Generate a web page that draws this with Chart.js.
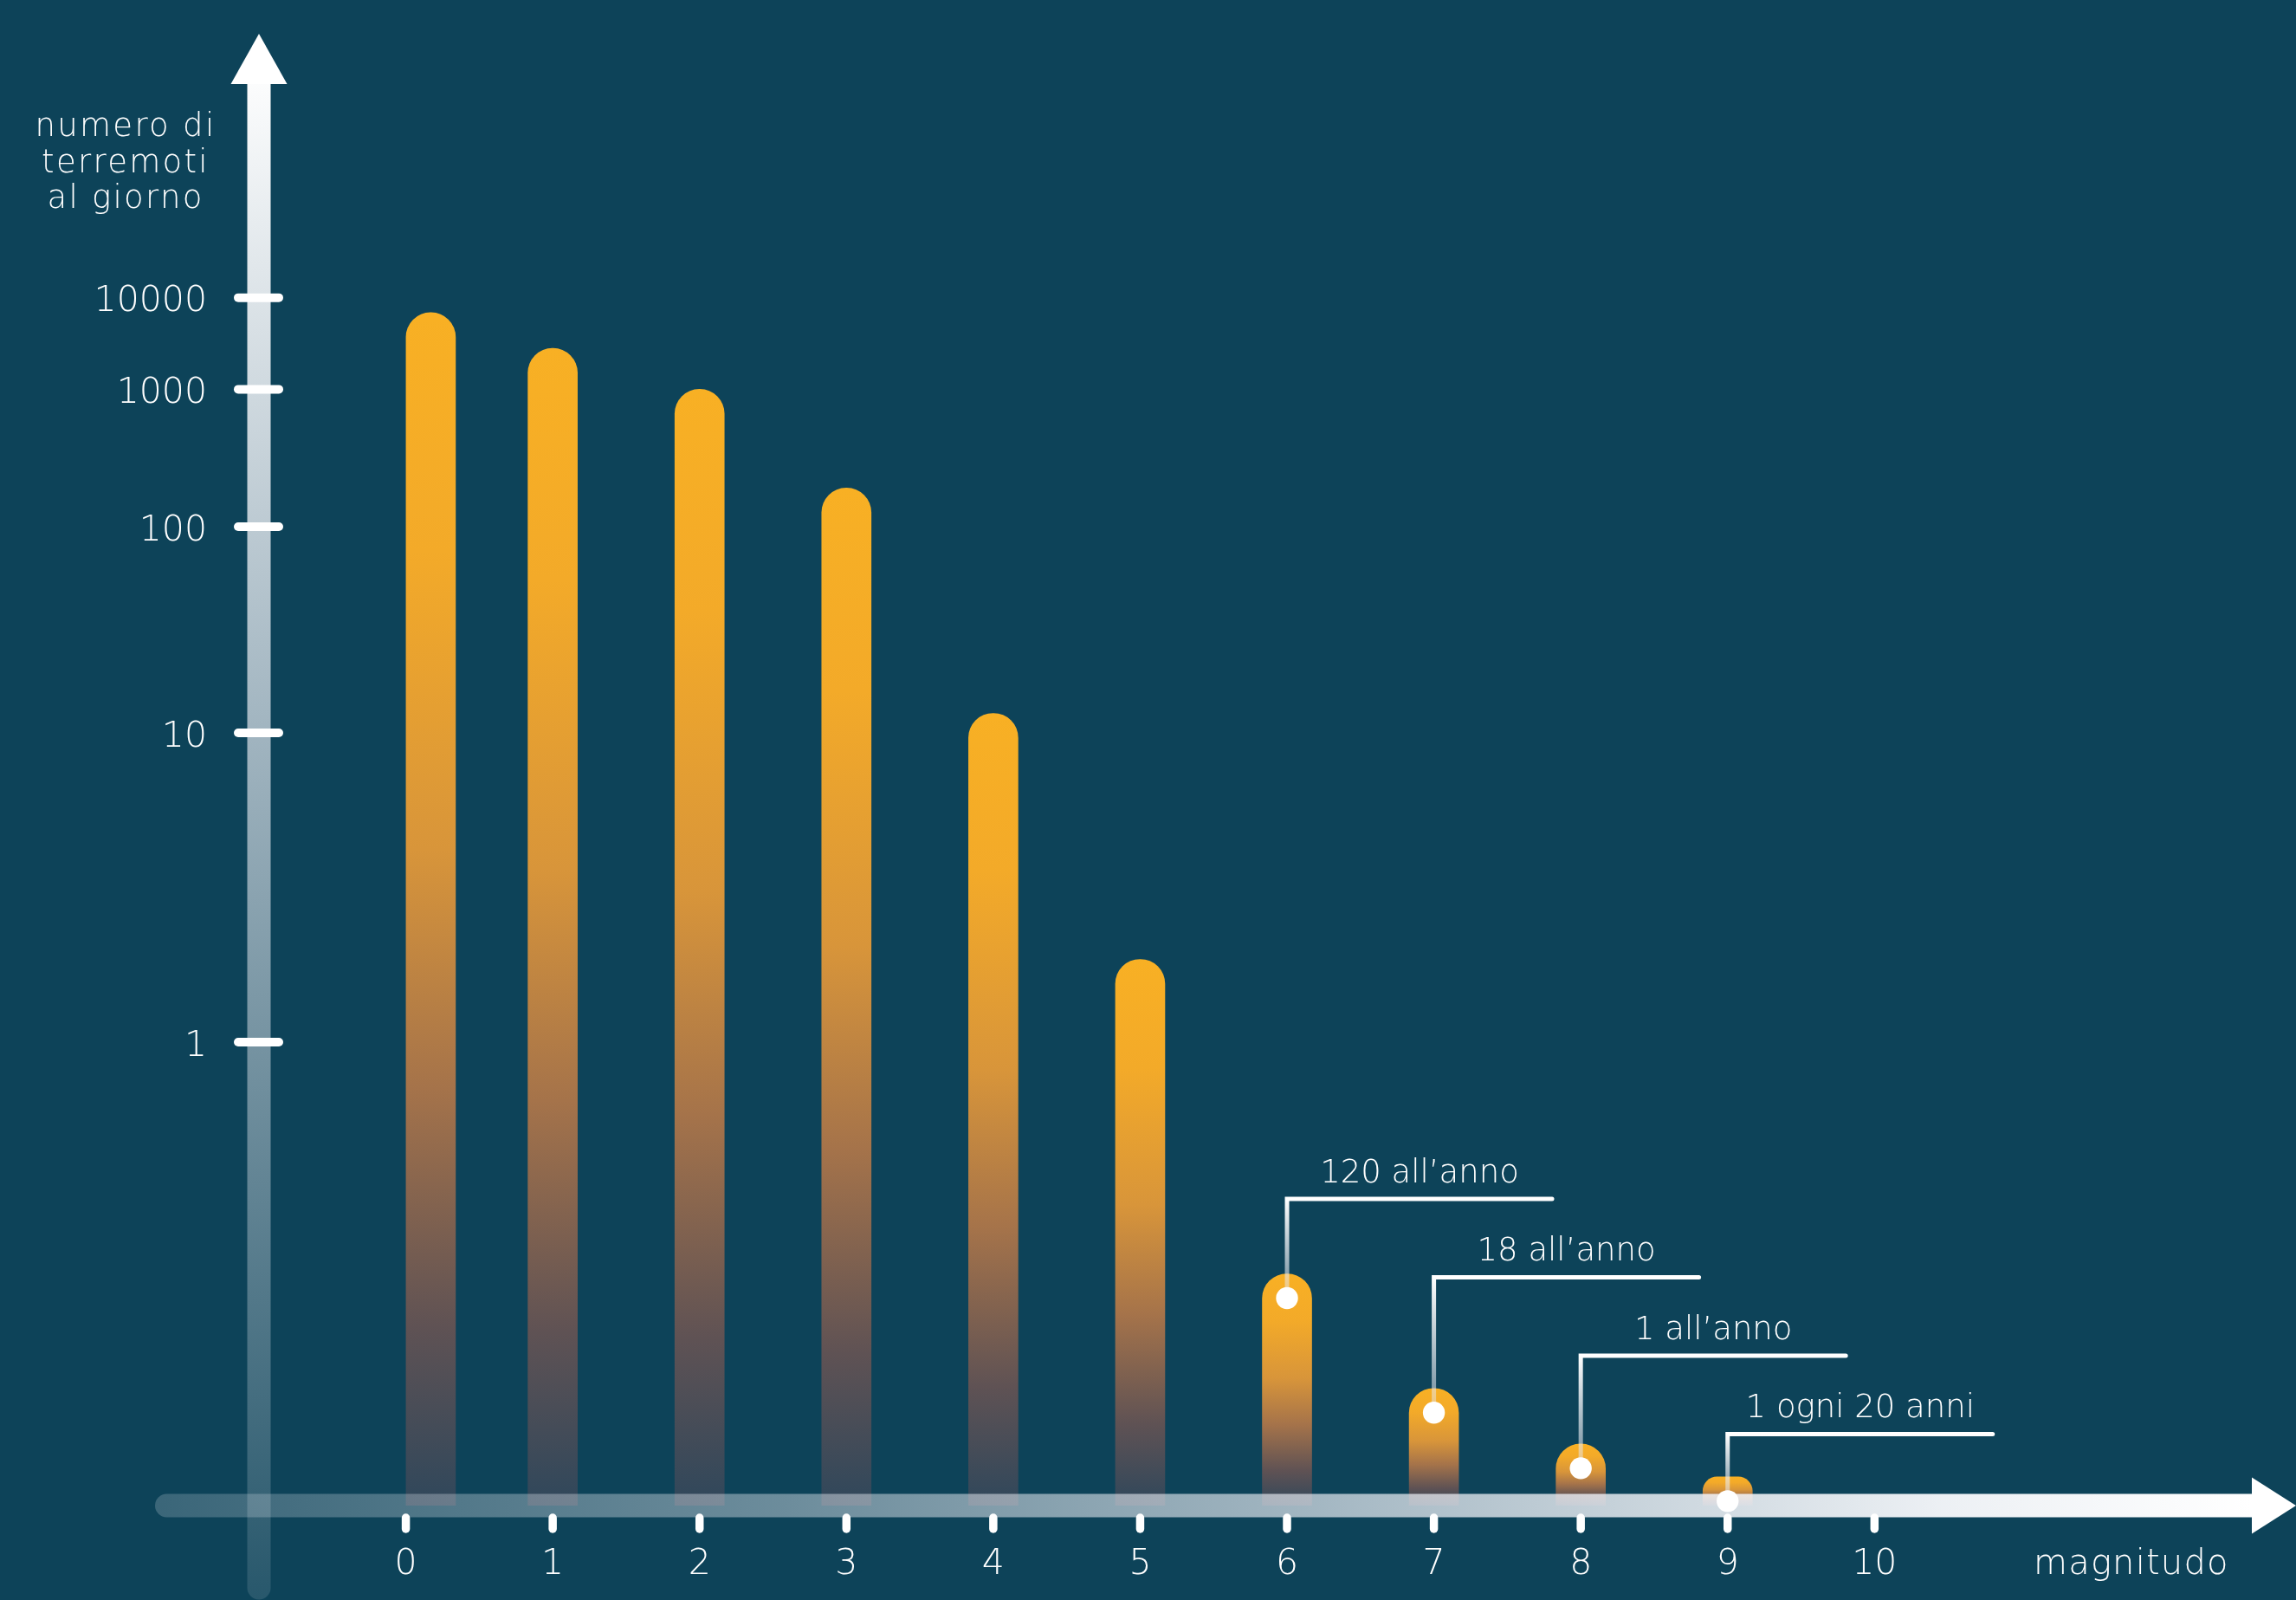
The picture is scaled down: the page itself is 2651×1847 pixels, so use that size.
<!DOCTYPE html>
<html lang="it">
<head>
<meta charset="utf-8">
<title>Terremoti al giorno per magnitudo</title>
<script src="https://cdn.jsdelivr.net/npm/chart.js@4.4.1/dist/chart.umd.min.js"></script>
<style>
  html, body { margin: 0; padding: 0; background: #0d4359; }
  #wrap { width: 2651px; height: 1847px; position: relative; }
</style>
</head>
<body>
<div id="wrap"><canvas id="quakeChart"></canvas></div>
<script>
// magnitude of each bar (the first bar sits a little right of its tick in the original)
const magnitudes = [0.17, 1, 2, 3, 4, 5, 6, 7, 8, 9];
// earthquakes per day
const perDay = [6400, 2500, 1000, 175, 12, 1.7, 0.329, 0.0493, 0.00274, 0.000137];
const callouts = ['', '', '', '', '', '', '120 all’anno', '18 all’anno', '1 all’anno', '1 ogni 20 anni'];
const xTicks = [0, 1, 2, 3, 4, 5, 6, 7, 8, 9, 10];
const yTicks = [1, 10, 100, 1000, 10000];
const yTitle = ['numero di', 'terremoti', 'al giorno'];
const xTitle = 'magnitudo';

const BG = '#0d4359';
const FONT = '"DejaVu Sans", "Open Sans", sans-serif';

// the y axis of the original is hand made: from 1 upward every decade gets 2/3 of the
// room of the one below it, under 1 the bars are just squeezed down to the axis
const DECADE_RATIO = 2 / 3;
const SHARE_AT_1 = 0.3078;
const FIRST_DECADE = 0.2054;
const lowSteps = [[-5, 0], [-4, 0.0172], [-3, 0.0309], [-2, 0.0538], [-1.5, 0.0637], [-1, 0.1003], [-0.5, 0.1484], [0, SHARE_AT_1]];

function shareOf(v) {
    if (!(v > 0)) return 0;
    const k = Math.log10(v);
    if (k >= 0) {
        return SHARE_AT_1 + FIRST_DECADE * (1 - Math.pow(DECADE_RATIO, k)) / (1 - DECADE_RATIO);
    }
    if (k <= lowSteps[0][0]) return 0;
    for (let i = 1; i < lowSteps.length; i++) {
        if (k <= lowSteps[i][0]) {
            const [k0, s0] = lowSteps[i - 1];
            const [k1, s1] = lowSteps[i];
            return s0 + (s1 - s0) * (k - k0) / (k1 - k0);
        }
    }
    return SHARE_AT_1;
}

class QuakeScale extends Chart.Scale {
    determineDataLimits() {
        this.min = 1e-5;
        this.max = 1e5;
    }
    buildTicks() {
        return yTicks.map(v => ({ value: v }));
    }
    getLabelForValue(v) {
        return String(v);
    }
    getPixelForValue(v) {
        return this.getPixelForDecimal(shareOf(v));
    }
    getValueForPixel(p) {
        // bisection, only needed for interaction
        const dec = this.getDecimalForPixel(p);
        let lo = -5, hi = 6;
        for (let i = 0; i < 40; i++) {
            const mid = (lo + hi) / 2;
            if (shareOf(Math.pow(10, mid)) < dec) lo = mid; else hi = mid;
        }
        return Math.pow(10, lo);
    }
}
QuakeScale.id = 'quake';
QuakeScale.defaults = {};
Chart.register(QuakeScale);

function barFill(ctx) {
    const chart = ctx.chart;
    const area = chart.chartArea;
    if (!area || ctx.type !== 'data') return '#f6ae25';
    const top = chart.scales.y.getPixelForValue(perDay[ctx.dataIndex]);
    const g = chart.ctx.createLinearGradient(0, top, 0, area.bottom);
    g.addColorStop(0, '#f8b024');
    g.addColorStop(0.2, '#f3aa29');
    g.addColorStop(0.45, '#d8953a');
    g.addColorStop(0.65, '#a5734a');
    g.addColorStop(0.85, '#5f5254');
    g.addColorStop(1, '#2f475b');
    return g;
}

const decor = {
    id: 'quakeDecor',
    beforeDraw(chart) {
        const c = chart.ctx;
        c.save();
        c.fillStyle = BG;
        c.fillRect(0, 0, chart.width, chart.height);
        c.restore();
    },
    afterDatasetsDraw(chart) {
        const c = chart.ctx;
        const xs = chart.scales.x, ys = chart.scales.y;
        const area = chart.chartArea;
        const ax = area.left;      // y axis stands at magnitude -1
        const ay = area.bottom;    // x axis lies on the base of the bars
        c.save();

        // x axis band, fading in from the left
        const xg = c.createLinearGradient(179, 0, 2600, 0);
        xg.addColorStop(0, 'rgba(240,242,248,0.2)');
        xg.addColorStop(0.3, 'rgba(240,242,248,0.42)');
        xg.addColorStop(0.55, 'rgba(240,242,248,0.66)');
        xg.addColorStop(0.85, 'rgba(248,249,252,0.95)');
        xg.addColorStop(1, '#ffffff');
        c.fillStyle = xg;
        c.beginPath();
        c.roundRect(179, ay - 13.5, 2600 - 179, 27, [13.5, 0, 0, 13.5]);
        c.fill();
        c.fillStyle = '#ffffff';
        c.beginPath();
        c.moveTo(2600, ay - 32.5);
        c.lineTo(chart.width, ay);
        c.lineTo(2600, ay + 32.5);
        c.closePath();
        c.fill();

        // y axis shaft, fading out to the bottom
        const yg = c.createLinearGradient(0, 70, 0, chart.height);
        yg.addColorStop(0, 'rgba(255,255,255,1)');
        yg.addColorStop(0.45, 'rgba(236,238,244,0.65)');
        yg.addColorStop(1, 'rgba(236,238,244,0.12)');
        c.strokeStyle = yg;
        c.lineWidth = 27;
        c.lineCap = 'round';
        c.beginPath();
        c.moveTo(ax, 80);
        c.lineTo(ax, chart.height - 14);
        c.stroke();
        c.fillStyle = '#ffffff';
        c.beginPath();
        c.moveTo(ax, 39);
        c.lineTo(ax + 32.5, 97);
        c.lineTo(ax - 32.5, 97);
        c.closePath();
        c.fill();

        // tick marks
        c.strokeStyle = '#ffffff';
        c.lineWidth = 10;
        yTicks.forEach(v => {
            const py = ys.getPixelForValue(v);
            c.beginPath();
            c.moveTo(ax - 24, py);
            c.lineTo(ax + 23, py);
            c.stroke();
        });
        c.lineWidth = 9.5;
        xTicks.forEach(v => {
            const px = xs.getPixelForValue(v);
            c.beginPath();
            c.moveTo(px, ay + 14);
            c.lineTo(px, ay + 27);
            c.stroke();
        });

        // callouts on the rare magnitudes
        let n = 0;
        callouts.forEach((label, i) => {
            if (!label) return;
            const px = xs.getPixelForValue(magnitudes[i]);
            const dotY = ys.getPixelForValue(perDay[i]) + 28;
            const lineY = 1384 + n * 90.5;
            n++;
            const lg = c.createLinearGradient(0, lineY, 0, dotY);
            lg.addColorStop(0, '#ffffff');
            lg.addColorStop(1, 'rgba(225,228,236,0.45)');
            c.strokeStyle = lg;
            c.lineWidth = 5;
            c.lineCap = 'round';
            c.lineJoin = 'miter';
            c.beginPath();
            c.moveTo(px, dotY);
            c.lineTo(px, lineY);
            c.lineTo(px + 306, lineY);
            c.stroke();

            c.fillStyle = '#ffffff';
            c.beginPath();
            c.arc(px, dotY, 12.7, 0, Math.PI * 2);
            c.fill();

            c.font = '200 37px ' + FONT;
            c.textAlign = 'center';
            c.textBaseline = 'alphabetic';
            c.fillText(label, px + 153, lineY - 19.5);
        });

        // axis titles
        c.fillStyle = '#ffffff';
        c.textBaseline = 'alphabetic';
        c.font = '200 37px ' + FONT;
        c.letterSpacing = '2.3px';
        c.textAlign = 'center';
        yTitle.forEach((line, i) => c.fillText(line, 145, 157 + i * 41.5));
        c.font = '200 40px ' + FONT;
        c.letterSpacing = '1.2px';
        c.textAlign = 'left';
        c.fillText(xTitle, 2348, 1817);
        c.restore();
    }
};

const ctx = document.getElementById('quakeChart').getContext('2d');
new Chart(ctx, {
    type: 'bar',
    data: {
        datasets: [{
            label: 'terremoti al giorno',
            data: magnitudes.map((m, i) => ({ x: m, y: perDay[i] })),
            backgroundColor: barFill,
            borderWidth: 0,
            barThickness: 57,
            borderRadius: { topLeft: 28.5, topRight: 28.5, bottomLeft: 0, bottomRight: 0 },
            borderSkipped: 'start'
        }]
    },
    options: {
        responsive: true,
        maintainAspectRatio: false,
        devicePixelRatio: 1,
        animation: false,
        events: [],
        layout: { padding: 0 },
        plugins: {
            legend: { display: false },
            tooltip: { enabled: false }
        },
        scales: {
            x: {
                type: 'linear',
                min: -1,
                max: 12.87,
                offset: false,
                grid: { display: false, drawTicks: false },
                border: { display: false },
                afterBuildTicks: function(scale) {
                    scale.ticks = xTicks.map(v => ({ value: v }));
                },
                afterFit: function(scale) {
                    scale.height = 109;
                    scale.paddingLeft = 0;
                    scale.paddingRight = 0;
                },
                ticks: {
                    color: '#ffffff',
                    padding: 44,
                    maxRotation: 0,
                    autoSkip: false,
                    font: { family: FONT, size: 41, weight: 200 }
                }
            },
            y: {
                type: 'quake',
                position: 'left',
                grid: { display: false, drawTicks: false },
                border: { display: false },
                afterFit: function(scale) {
                    scale.width = 299;
                    scale.paddingTop = 0;
                    scale.paddingBottom = 0;
                },
                ticks: {
                    color: '#ffffff',
                    padding: 60,
                    labelOffset: 5,
                    font: { family: FONT, size: 41, weight: 200 }
                }
            }
        }
    },
    plugins: [decor]
});
</script>
</body>
</html>
